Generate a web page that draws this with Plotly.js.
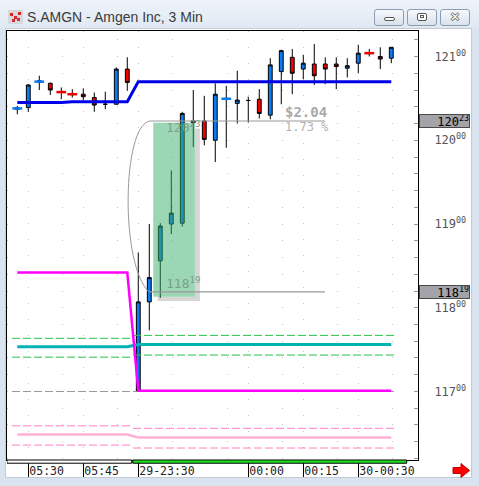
<!DOCTYPE html>
<html><head><meta charset="utf-8">
<script src="https://cdn.plot.ly/plotly-3.0.1.min.js"></script>
<style>
html,body{margin:0;padding:0;}
body{width:479px;height:486px;position:relative;overflow:hidden;background:#d9e4f0;}
#top{position:absolute;left:0;top:0;width:479px;height:29px;background:linear-gradient(#eef3f9,#dfe8f2);}
#panel{position:absolute;left:5px;top:28px;width:465px;height:448px;background:#fff;border:1px solid #c3cbd5;}
.btn{position:absolute;top:9px;width:28px;height:15px;border:1px solid #8c9cb4;border-radius:3px;background:linear-gradient(#f7f9fc,#d9e1ec);}
#icon{position:absolute;left:8px;top:10px;width:15px;height:14px;}
#chart{position:absolute;left:0;top:0;width:479px;height:486px;}
</style></head>
<body>
<div id="top"></div>
<svg id="icon" viewBox="0 0 15 14"><rect x="0" y="0" width="15" height="14" fill="#d8d8dc"/><rect x="2" y="3" width="3" height="3" fill="#d22"/><rect x="6" y="6" width="3" height="3" fill="#d22"/><rect x="10" y="2" width="3" height="3" fill="#d22"/><rect x="4" y="9" width="3" height="3" fill="#c33"/><rect x="9" y="8" width="3" height="3" fill="#c33"/></svg>
<div class="btn" style="left:374px"><div style="position:absolute;left:9px;top:7px;width:9px;height:2px;border:1px solid #555;border-radius:2px;background:#fff"></div></div>
<div class="btn" style="left:407px"><div style="position:absolute;left:9px;top:3px;width:8px;height:6px;border:1px solid #555;border-radius:2px;background:#fff"><div style="position:absolute;left:2px;top:1px;width:2px;height:1px;border:1px solid #555"></div></div></div>
<div class="btn" style="left:440px;text-align:center;font:bold 12px 'DejaVu Sans';line-height:15px;color:#fff;text-shadow:1px 0 #666,-1px 0 #666,0 1px #666,0 -1px #666">✕</div>
<div id="panel"></div>
<div id="chart"></div>
<script>
// ---- data ----
const times = ['05:27','05:30','05:33','05:36','05:39','05:42','05:45','05:48','05:51','05:54','05:57',
  '23:30','23:33','23:36','23:39','23:42','23:45','23:48','23:51','23:54','23:57',
  '00:00','00:03','00:06','00:09','00:12','00:15','00:18','00:21','00:24','00:27','00:30','00:33','00:36','00:39'];
const openP  = [120.37,120.39,120.69,120.68,120.58,120.555,120.55,120.51,120.43,120.43,120.85,
  117.00,118.07,118.56,119.00,119.01,120.21,120.23,120.00,120.49,120.44,120.475,120.49,120.30,120.82,120.99,120.85,120.91,120.91,120.91,120.86,120.92,121.045,121.00,120.98];
const highP  = [120.41,120.67,120.77,120.69,120.63,120.61,120.62,120.57,120.58,120.87,120.99,
  118.66,119.00,119.01,119.64,120.34,120.60,120.53,120.68,120.65,120.83,120.52,120.61,120.98,121.08,121.09,121.02,121.15,120.99,120.99,120.98,121.14,121.09,121.11,121.11];
const lowP   = [120.31,120.34,120.60,120.54,120.49,120.51,120.48,120.34,120.37,120.43,120.59,
  117.00,117.73,118.12,118.88,118.97,119.92,119.94,119.74,119.91,120.20,120.21,120.26,120.25,120.43,120.55,120.73,120.66,120.67,120.61,120.75,120.80,121.00,120.85,120.92];
const closeP = [120.39,120.66,120.71,120.60,120.57,120.545,120.52,120.42,120.43,120.85,120.69,
  118.07,118.36,118.975,119.13,120.32,120.23,120.01,120.55,120.50,120.48,120.475,120.32,120.90,121.07,120.80,120.92,120.77,120.85,120.88,120.89,121.04,121.035,120.97,121.11];
const dashIdx = [0,2,4,5,19,32];
const maLine      = [120.45,120.45,120.45,120.45,120.45,120.46,120.46,120.46,120.46,120.46,120.46,
  120.70,120.70,120.70,120.70,120.70,120.70,120.70,120.70,120.70,120.70,120.70,120.70,120.70,120.70,120.70,120.70,120.70,120.70,120.70,120.70,120.70,120.70,120.70,120.70];
const magentaLine = [118.42,118.42,118.42,118.42,118.42,118.42,118.42,118.42,118.42,118.42,118.42,
  117.01,117.01,117.01,117.01,117.01,117.01,117.01,117.01,117.01,117.01,117.01,117.01,117.01,117.01,117.01,117.01,117.01,117.01,117.01,117.01,117.01,117.01,117.01,117.01];
const tealLine    = [117.535,117.535,117.535,117.535,117.535,117.535,117.535,117.535,117.535,117.535,117.535,
  117.56,117.56,117.56,117.56,117.56,117.56,117.56,117.56,117.56,117.56,117.56,117.56,117.56,117.56,117.56,117.56,117.56,117.56,117.56,117.56,117.56,117.56,117.56,117.56];
const pinkLine    = [116.485,116.485,116.485,116.485,116.485,116.485,116.485,116.485,116.485,116.485,116.485,
  116.45,116.45,116.45,116.45,116.45,116.45,116.45,116.45,116.45,116.45,116.45,116.45,116.45,116.45,116.45,116.45,116.45,116.45,116.45,116.45,116.45,116.45,116.45,116.45];
const sessionStart = [-0.48, 10.52];
const sessionEnd   = [10.43, 34.43];
const greenUpper = [117.635, 117.67];
const greenLower = [117.41, 117.435];
const pinkUpper  = [116.59, 116.56];
const pinkLower  = [116.36, 116.325];
const baseLevel  = [117.00, 117.00];
const measureHigh = 120.23, measureLow = 118.19;
const measureStart = [12.06, 11.97], measureEnd = 27.97;
const measureLabels = ['120<sup>23</sup>', '118<sup>19</sup>'];
const moveText = '$2.04', pctText = '1.73 %';
const yTickVals = [117, 118, 119, 120, 121];
const yTickText = ['117<sup>00</sup>','118<sup>00</sup>','119<sup>00</sup>','120<sup>00</sup>','121<sup>00</sup>'];
const xTickIdx  = [1, 6, 11, 21, 26, 31];
const xTickText = ['05:30','05:45','29-23:30','00:00','00:15','30-00:30'];

const idx = times.map((t, i) => i);
const mono = 'DejaVu Sans Mono';
const traces = [];
for (let s = 0; s < 2; s++) {
  const xs = [sessionStart[s], sessionEnd[s]];
  const dashed = (v, c) => traces.push({type:'scatter', mode:'lines', x:xs, y:[v[s], v[s]],
    line:{color:c, width:1, dash:'8px,3px'}, hoverinfo:'skip'});
  dashed(pinkUpper, '#ff80c4');
  dashed(pinkLower, '#ff80c4');
  dashed(baseLevel, '#9a9a9a');
  dashed(greenUpper, '#26c24a');
  dashed(greenLower, '#26c24a');
}
traces.push({type:'scatter', mode:'lines', x:idx, y:pinkLine, line:{color:'#ffaed6', width:2.5}});
traces.push({type:'scatter', mode:'lines', x:idx, y:tealLine, line:{color:'#00b2b2', width:3}});
traces.push({type:'scatter', mode:'lines', x:idx, y:magentaLine, line:{color:'#ff00ff', width:2.5}});
traces.push({type:'scatter', mode:'lines', x:idx, y:maLine, line:{color:'#0000e6', width:3}});
traces.push({type:'candlestick', x:idx, open:openP, high:highP, low:lowP, close:closeP,
  increasing:{line:{color:'#000', width:1}, fillcolor:'#0a7af5'},
  decreasing:{line:{color:'#000', width:1}, fillcolor:'#f00000'},
  whiskerwidth:0, hoverinfo:'skip'});
traces.push({type:'scatter', mode:'markers', x:dashIdx,
  y:dashIdx.map(i => (openP[i] + closeP[i]) / 2),
  marker:{symbol:'line-ew', size:7, line:{width:2.5,
    color:dashIdx.map(i => closeP[i] >= openP[i] ? '#0a7af5' : '#f00000')}}});

const xr = [-0.936, 36.43], yr = [116.182, 121.3045];
const shapes = [
  // shadow of the highlight box
  {type:'rect', xref:'x', yref:'y', x0:16.15, x1:16.6, y0:118.08, y1:120.14, fillcolor:'rgba(0,0,0,0.16)', line:{width:0}, layer:'above'},
  {type:'rect', xref:'x', yref:'y', x0:12.75, x1:16.15, y0:118.08, y1:118.13, fillcolor:'rgba(0,0,0,0.16)', line:{width:0}, layer:'above'},
  {type:'rect', xref:'x', yref:'y', x0:12.36, x1:16.15, y0:118.13, y1:120.21, fillcolor:'rgb(55,175,105)', opacity:0.5, line:{width:0}, layer:'above'},
  {type:'line', xref:'x', yref:'y', x0:measureStart[0], x1:measureEnd, y0:measureHigh, y1:measureHigh, line:{color:'#9a9a9a', width:1.2}, layer:'above'},
  {type:'line', xref:'x', yref:'y', x0:measureStart[1], x1:measureEnd, y0:measureLow, y1:measureLow, line:{color:'#9a9a9a', width:1.2}, layer:'above'},
  {type:'path', xref:'x', yref:'y', layer:'above', line:{color:'#9a9a9a', width:1},
    path:'M '+measureStart[0]+','+measureHigh+' C 9.52,120.18 9.34,118.51 '+measureStart[1]+','+measureLow},
  // session strip under the plot
  {type:'rect', xref:'x', yref:'paper', x0:-0.94, x1:10.4, y0:-0.0075, y1:0, fillcolor:'#fff', line:{color:'#000', width:1}},
  {type:'rect', xref:'x', yref:'paper', x0:10.5, x1:35.4, y0:-0.0075, y1:0, fillcolor:'#22e622', line:{color:'#000', width:1}},
  // red arrow
  {type:'path', xref:'paper', yref:'paper', fillcolor:'#ff0000', line:{color:'#c00000', width:1},
    path:'M 1.0852,-0.01748 L 1.1046,-0.01748 L 1.1046,-0.00816 L 1.1253,-0.02448 L 1.1046,-0.04079 L 1.1046,-0.03147 L 1.0852,-0.03147 Z'}
];
const annotations = [
  {xref:'x', yref:'y', x:13.34, y:120.158, xanchor:'left', yanchor:'middle', showarrow:false,
   text:measureLabels[0], font:{family:mono, size:13, color:'#7e9e8c'}},
  {xref:'x', yref:'y', x:13.34, y:118.296, xanchor:'left', yanchor:'middle', showarrow:false,
   text:measureLabels[1], font:{family:mono, size:13, color:'#7e9e8c'}},
  {xref:'x', yref:'y', x:24.15, y:120.34, xanchor:'left', yanchor:'middle', showarrow:false,
   text:'<b>'+moveText+'</b>', font:{family:mono, size:14, color:'#a9a9a9'}},
  {xref:'x', yref:'y', x:24.13, y:120.16, xanchor:'left', yanchor:'middle', showarrow:false,
   text:pctText, font:{family:mono, size:12, color:'#b3b3b3'}},
  {xref:'paper', yref:'y', x:1, xshift:1, y:measureHigh, xanchor:'left', yanchor:'middle', showarrow:false,
   text:measureLabels[0], bgcolor:'#a3a3a9', bordercolor:'#4a4a4a', borderwidth:1, borderpad:0, width:49, height:12, align:'right',
   font:{family:mono, size:12, color:'#000'}},
  {xref:'paper', yref:'y', x:1, xshift:1, y:measureLow, xanchor:'left', yanchor:'middle', showarrow:false,
   text:measureLabels[1], bgcolor:'#a3a3a9', bordercolor:'#4a4a4a', borderwidth:1, borderpad:0, width:49, height:12, align:'right',
   font:{family:mono, size:12, color:'#000'}}
];
const layout = {
  width:479, height:486, autosize:false,
  margin:{l:7, r:61, t:31, b:26, pad:0},
  paper_bgcolor:'rgba(0,0,0,0)', plot_bgcolor:'#ffffff',
  showlegend:false, boxgap:0.5,
  title:{text:'S.AMGN - Amgen Inc, 3 Min', xref:'container', yref:'container', x:27/479, xanchor:'left',
    y:1 - 17/486, yanchor:'middle', pad:{t:0,b:0,l:0,r:0}, font:{family:'Liberation Sans', size:14, color:'#3a3a3a'}},
  xaxis:{type:'linear', range:xr, rangeslider:{visible:false}, tickmode:'array', tickvals:xTickIdx, ticktext:xTickText,
    ticks:'outside', ticklen:16, tickcolor:'#000', tickwidth:1, ticklabelposition:'outside right', ticklabelstandoff:0,
    tickfont:{family:mono, size:11.5, color:'#222'}, showline:true, mirror:true, linecolor:'#000', linewidth:1,
    showgrid:true, gridcolor:'#c4c4c4', griddash:'1px,15px', zeroline:false, fixedrange:true},
  yaxis:{range:yr, side:'right', tickmode:'array', tickvals:yTickVals, ticktext:yTickText,
    ticks:'inside', ticklen:4, tickcolor:'#999', ticklabelstandoff:13,
    tickfont:{family:mono, size:12, color:'#555'}, showline:true, mirror:true, linecolor:'#000', linewidth:1,
    showgrid:true, gridcolor:'#c4c4c4', griddash:'1px,54px', zeroline:false, fixedrange:true,
    minor:{tick0:0, dtick:0.2, ticks:'inside', ticklen:4, tickcolor:'#999', showgrid:true, gridcolor:'#c4c4c4', griddash:'1px,54px'}},
  shapes:shapes, annotations:annotations
};
Plotly.newPlot('chart', traces, layout, {staticPlot:true, displayModeBar:false});
</script>
</body></html>
